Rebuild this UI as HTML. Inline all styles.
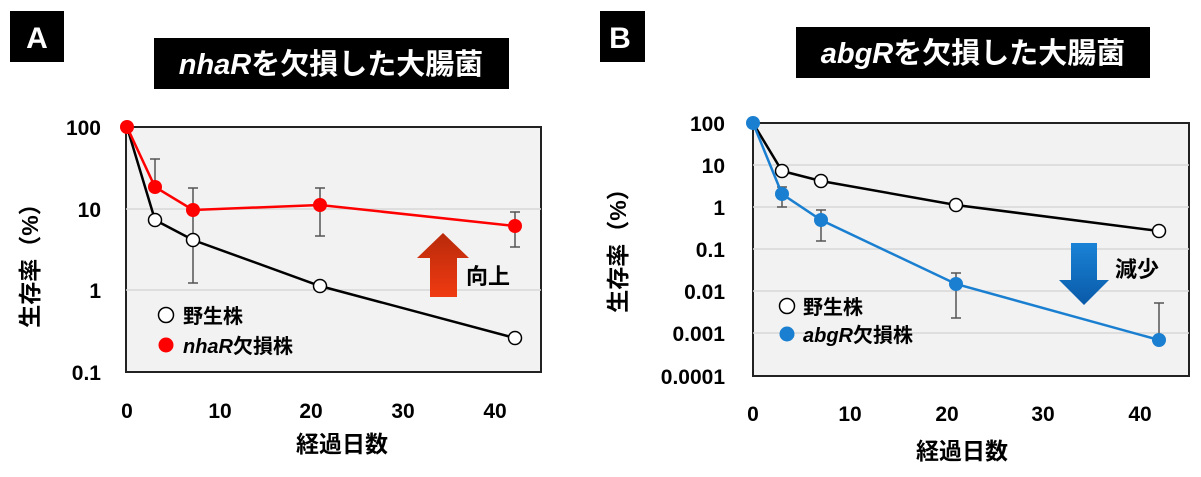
<!DOCTYPE html>
<html><head><meta charset="utf-8"><style>
body{margin:0;background:#fff}
svg{display:block}
text{font-family:"Liberation Sans","Noto Sans CJK JP",sans-serif;font-weight:bold}
</style></head><body>
<svg width="1201" height="477" viewBox="0 0 1201 477" xmlns="http://www.w3.org/2000/svg">
<defs>
<linearGradient id="rg" x1="0" y1="0" x2="0" y2="1"><stop offset="0" stop-color="#b82a0a"/><stop offset="1" stop-color="#f03a12"/></linearGradient>
<linearGradient id="bg" x1="0" y1="0" x2="0" y2="1"><stop offset="0" stop-color="#1a82d6"/><stop offset="1" stop-color="#0a5aa8"/></linearGradient>
</defs>
<!-- Panel A -->
<rect x="10" y="11" width="54" height="51" fill="#000"/>
<text x="37" y="48" fill="#fff" font-size="30" text-anchor="middle">A</text>
<rect x="154" y="38" width="355" height="51" fill="#000"/>
<text x="331" y="74" fill="#fff" font-size="29" text-anchor="middle"><tspan font-style="italic">nhaR</tspan>を欠損した大腸菌</text>
<rect x="126" y="127" width="415" height="245" fill="#f2f2f2" stroke="#222" stroke-width="2"/>
<line x1="126" y1="209" x2="541" y2="209" stroke="#d8d8d8" stroke-width="1.5"/>
<line x1="126" y1="290" x2="541" y2="290" stroke="#d8d8d8" stroke-width="1.5"/>
<g font-size="21" text-anchor="end">
<text x="101" y="135">100</text><text x="101" y="217">10</text><text x="101" y="298">1</text><text x="101" y="380">0.1</text>
</g>
<g font-size="21" text-anchor="middle">
<text x="127" y="418">0</text><text x="220" y="418">10</text><text x="311" y="418">20</text><text x="403" y="418">30</text><text x="495" y="418">40</text>
</g>
<text x="342" y="452" font-size="23" text-anchor="middle">経過日数</text>
<text transform="translate(38,260) rotate(-90)" font-size="23" text-anchor="middle">生存率（%）</text>
<g stroke="#555" stroke-width="1.5">
<line x1="155" y1="159" x2="155" y2="188"/><line x1="150" y1="159" x2="160" y2="159"/>
<line x1="193" y1="188" x2="193" y2="283"/><line x1="188" y1="188" x2="198" y2="188"/><line x1="188" y1="283" x2="198" y2="283"/>
<line x1="320" y1="188" x2="320" y2="236"/><line x1="315" y1="188" x2="325" y2="188"/><line x1="315" y1="236" x2="325" y2="236"/>
<line x1="515" y1="212" x2="515" y2="247"/><line x1="510" y1="212" x2="520" y2="212"/><line x1="510" y1="247" x2="520" y2="247"/>
</g>
<polyline points="127,127 155,220 193,240 320,286 515,338" fill="none" stroke="#000" stroke-width="2.5"/>
<polyline points="127,127 155,187 193,210 320,205 515,226" fill="none" stroke="#f00" stroke-width="2.5"/>
<g fill="#fff" stroke="#000" stroke-width="1.5">
<circle cx="155" cy="220" r="6.5"/><circle cx="193" cy="240" r="6.5"/><circle cx="320" cy="286" r="6.5"/><circle cx="515" cy="338" r="6.5"/>
</g>
<g fill="#f00">
<circle cx="127" cy="127" r="7"/><circle cx="155" cy="187" r="7"/><circle cx="193" cy="210" r="7"/><circle cx="320" cy="205" r="7"/><circle cx="515" cy="226" r="7"/>
</g>
<polygon points="443,233 469,258 457,258 457,297 430,297 430,258 417,258" fill="url(#rg)"/>
<text x="466" y="284" font-size="22">向上</text>
<circle cx="166" cy="315" r="7.5" fill="#fff" stroke="#000" stroke-width="1.5"/>
<text x="183" y="323" font-size="20">野生株</text>
<circle cx="166" cy="345" r="7.5" fill="#f00"/>
<text x="183" y="353" font-size="20"><tspan font-style="italic">nhaR</tspan>欠損株</text>
<!-- Panel B -->
<rect x="600" y="11" width="45" height="51" fill="#000"/>
<text x="620" y="48" fill="#fff" font-size="30" text-anchor="middle">B</text>
<rect x="796" y="27" width="354" height="51" fill="#000"/>
<text x="973" y="63" fill="#fff" font-size="29" text-anchor="middle"><tspan font-style="italic">abgR</tspan>を欠損した大腸菌</text>
<rect x="753" y="123" width="436" height="253" fill="#f2f2f2" stroke="#222" stroke-width="2"/>
<g stroke="#d8d8d8" stroke-width="1.5">
<line x1="753" y1="165" x2="1189" y2="165"/><line x1="753" y1="207" x2="1189" y2="207"/><line x1="753" y1="249" x2="1189" y2="249"/><line x1="753" y1="291" x2="1189" y2="291"/><line x1="753" y1="333" x2="1189" y2="333"/>
</g>
<g font-size="21" text-anchor="end">
<text x="725" y="131">100</text><text x="725" y="173">10</text><text x="725" y="215">1</text><text x="725" y="257">0.1</text><text x="725" y="299">0.01</text><text x="725" y="341">0.001</text><text x="725" y="384">0.0001</text>
</g>
<g font-size="21" text-anchor="middle">
<text x="753" y="421">0</text><text x="850" y="421">10</text><text x="947" y="421">20</text><text x="1043" y="421">30</text><text x="1140" y="421">40</text>
</g>
<text x="962" y="459" font-size="23" text-anchor="middle">経過日数</text>
<text transform="translate(626,245) rotate(-90)" font-size="23" text-anchor="middle">生存率（%）</text>
<g stroke="#555" stroke-width="1.5">
<line x1="782" y1="187" x2="782" y2="207"/><line x1="777" y1="187" x2="787" y2="187"/><line x1="777" y1="207" x2="787" y2="207"/>
<line x1="821" y1="210" x2="821" y2="241"/><line x1="816" y1="210" x2="826" y2="210"/><line x1="816" y1="241" x2="826" y2="241"/>
<line x1="956" y1="273" x2="956" y2="318"/><line x1="951" y1="273" x2="961" y2="273"/><line x1="951" y1="318" x2="961" y2="318"/>
<line x1="1159" y1="303" x2="1159" y2="340"/><line x1="1154" y1="303" x2="1164" y2="303"/>
</g>
<polyline points="753,123 782,171 821,181 956,205 1159,231" fill="none" stroke="#000" stroke-width="2.5"/>
<polyline points="753,123 782,194 821,220 956,284 1159,340" fill="none" stroke="#1a7fd0" stroke-width="2.5"/>
<g fill="#fff" stroke="#000" stroke-width="1.5">
<circle cx="782" cy="171" r="6.5"/><circle cx="821" cy="181" r="6.5"/><circle cx="956" cy="205" r="6.5"/><circle cx="1159" cy="231" r="6.5"/>
</g>
<g fill="#1a7fd0">
<circle cx="753" cy="123" r="7"/><circle cx="782" cy="194" r="7"/><circle cx="821" cy="220" r="7"/><circle cx="956" cy="284" r="7"/><circle cx="1159" cy="340" r="7"/>
</g>
<polygon points="1071,243 1097,243 1097,280 1109,280 1084,305 1059,280 1071,280" fill="url(#bg)"/>
<text x="1115" y="277" font-size="22">減少</text>
<circle cx="787" cy="306" r="7.5" fill="#fff" stroke="#000" stroke-width="1.5"/>
<text x="803" y="314" font-size="20">野生株</text>
<circle cx="787" cy="334" r="7.5" fill="#1a7fd0"/>
<text x="803" y="342" font-size="20"><tspan font-style="italic">abgR</tspan>欠損株</text>
</svg>
</body></html>
